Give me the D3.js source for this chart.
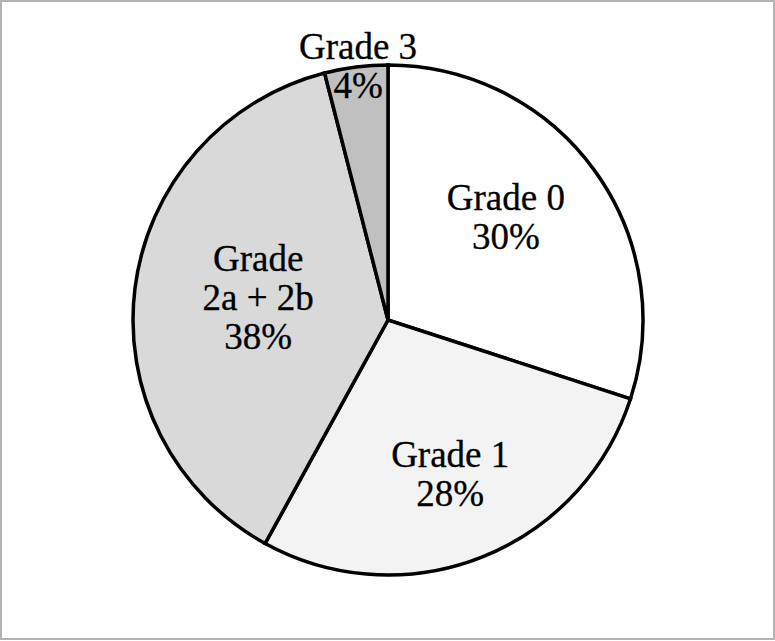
<!DOCTYPE html>
<html>
<head>
<meta charset="utf-8">
<script src="https://cdn.jsdelivr.net/npm/d3@7"></script>
<style>
  html, body { margin: 0; padding: 0; background: #fff; }
  svg { display: block; }
</style>
</head>
<body>
<svg id="chart" width="775" height="641"></svg>
<script>
// chart data
const grades = ['Grade 0', 'Grade 1', 'Grade 2a + 2b', 'Grade 3'];
const shares = [30, 28, 38, 4];
const labelLines = [['Grade 0', '30%'], ['Grade 1', '28%'], ['Grade', '2a + 2b', '38%'], ['Grade 3', '4%']];
const fills = ['#ffffff', '#f3f3f3', '#d9d9d9', '#c0c0c0'];

const width = 775, height = 641;
const cx = 388, cy = 320, R = 255;

const svg = d3.select('#chart');

// outer frame
svg.append('rect')
  .attr('x', 1).attr('y', 1)
  .attr('width', width - 2).attr('height', height - 3)
  .attr('fill', '#fff')
  .attr('stroke', '#b3b3b3')
  .attr('stroke-width', 2);

const data = grades.map((g, i) => ({ grade: g, share: shares[i], lines: labelLines[i], fill: fills[i] }));

const pie = d3.pie().sort(null).value(d => d.share);
const arc = d3.arc().innerRadius(0).outerRadius(R);

const g = svg.append('g').attr('transform', `translate(${cx},${cy})`);
const arcs = pie(data);

g.selectAll('path.slice')
  .data(arcs)
  .enter().append('path')
  .attr('class', 'slice')
  .attr('d', arc)
  .attr('fill', d => d.data.fill)
  .attr('stroke', '#000')
  .attr('stroke-width', 3.5)
  .attr('stroke-linejoin', 'miter');

// label placement: centroid on a label ring, small slice goes on the rim
const nudge = { 'Grade 0': [-10, -10], 'Grade 1': [4, 8], 'Grade 2a + 2b': [27, -2], 'Grade 3': [2, -1] };
const lineH = 39;

const labels = g.selectAll('text.lbl')
  .data(arcs)
  .enter().append('text')
  .attr('class', 'lbl')
  .attr('text-anchor', 'middle')
  .attr('font-family', '"Liberation Serif", "Times New Roman", serif')
  .attr('font-size', 37)
  .attr('fill', '#000')
  .attr('stroke', '#000')
  .attr('stroke-width', 0.3);

labels.each(function (d) {
  const r = d.data.share < 10 ? R : R * 0.62;
  const c = d3.arc().innerRadius(r).outerRadius(r).centroid(d);
  const [nx, ny] = nudge[d.data.grade];
  const x = c[0] + nx, y = c[1] + ny;
  const n = d.data.lines.length;
  const sel = d3.select(this);
  d.data.lines.forEach((t, i) => {
    sel.append('tspan')
      .attr('x', x)
      .attr('y', y + (i - (n - 1) / 2) * lineH + 12)
      .text(t);
  });
});
</script>
</body>
</html>
